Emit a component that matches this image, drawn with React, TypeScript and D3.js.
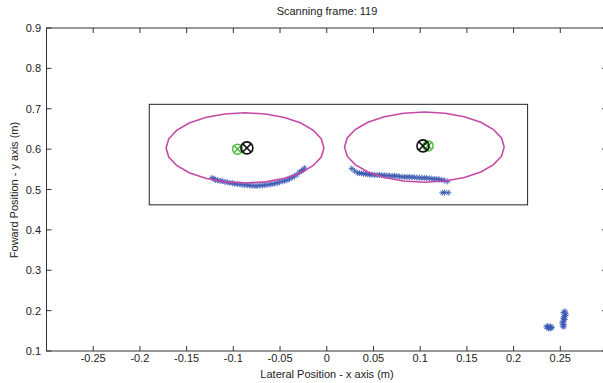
import React from 'react';
import * as d3 from 'd3';

// scan points, left object
const leftScanX = [-0.1228, -0.1205, -0.1190, -0.1168, -0.1141, -0.1118, -0.1090, -0.1065, -0.1037, -0.1010, -0.0985, -0.0958, -0.0930, -0.0905, -0.0878, -0.0850, -0.0825, -0.0798, -0.0770, -0.0745, -0.0718, -0.0690, -0.0665, -0.0638, -0.0610, -0.0585, -0.0558, -0.0530, -0.0505, -0.0478, -0.0450, -0.0425, -0.0398, -0.0370, -0.0345, -0.0318, -0.0292, -0.0270, -0.0252, -0.0238];
const leftScanY = [0.5290, 0.5262, 0.5240, 0.5228, 0.5215, 0.5205, 0.5190, 0.5178, 0.5165, 0.5158, 0.5140, 0.5135, 0.5128, 0.5120, 0.5112, 0.5105, 0.5100, 0.5095, 0.5090, 0.5092, 0.5100, 0.5098, 0.5112, 0.5118, 0.5126, 0.5135, 0.5150, 0.5160, 0.5185, 0.5198, 0.5215, 0.5232, 0.5262, 0.5295, 0.5335, 0.5370, 0.5430, 0.5460, 0.5490, 0.5530];

// scan points, right object
const rightScanX = [0.0267, 0.0299, 0.0330, 0.0352, 0.0373, 0.0395, 0.0416, 0.0440, 0.0458, 0.0485, 0.0512, 0.0540, 0.0565, 0.0590, 0.0618, 0.0645, 0.0672, 0.0700, 0.0725, 0.0750, 0.0778, 0.0805, 0.0832, 0.0858, 0.0885, 0.0910, 0.0938, 0.0965, 0.0991, 0.1018, 0.1045, 0.1070, 0.1098, 0.1125, 0.1151, 0.1178, 0.1205, 0.1232, 0.1258, 0.1290, 0.1237, 0.1262, 0.1301];
const rightScanY = [0.5522, 0.5460, 0.5410, 0.5405, 0.5400, 0.5392, 0.5386, 0.5378, 0.5370, 0.5365, 0.5360, 0.5358, 0.5360, 0.5352, 0.5350, 0.5345, 0.5340, 0.5338, 0.5340, 0.5330, 0.5320, 0.5318, 0.5310, 0.5312, 0.5310, 0.5305, 0.5300, 0.5296, 0.5290, 0.5288, 0.5290, 0.5282, 0.5275, 0.5270, 0.5260, 0.5258, 0.5250, 0.5240, 0.5225, 0.5200, 0.4920, 0.4925, 0.4920];

// far points, bottom right
const farScanX = [0.2350, 0.2365, 0.2380, 0.2395, 0.2410, 0.2372, 0.2400, 0.2525, 0.2540, 0.2520, 0.2535, 0.2548, 0.2530, 0.2542, 0.2555, 0.2560, 0.2532, 0.2550, 0.2538];
const farScanY = [0.1600, 0.1620, 0.1575, 0.1610, 0.1585, 0.1555, 0.1560, 0.1620, 0.1660, 0.1700, 0.1740, 0.1780, 0.1810, 0.1850, 0.1880, 0.1920, 0.1950, 0.1985, 0.1600];

// tracked objects: ellipse centre and radii, estimate (black) and measurement (green)
const ellipseCX = [-0.0875, 0.1045];
const ellipseCY = [0.603, 0.605];
const ellipseRX = [0.0845, 0.0855];
const ellipseRY = [0.087, 0.087];
const estimateX = [-0.0855, 0.1030];
const estimateY = [0.603, 0.608];
const measureX = [-0.0955, 0.1085];
const measureY = [0.600, 0.608];

// region of interest
const roiX = [-0.19, 0.215];
const roiY = [0.462, 0.711];

const xTicks = [-0.25, -0.2, -0.15, -0.1, -0.05, 0, 0.05, 0.1, 0.15, 0.2, 0.25];
const yTicks = [0.1, 0.2, 0.3, 0.4, 0.5, 0.6, 0.7, 0.8, 0.9];

const W = 603;
const H = 383;
const left = 46.5, right = 607, top = 28, bottom = 351;
const font = 'Liberation Sans, Arial, sans-serif';
const blue = '#3a58b4';
const magenta = '#c449a6';
const green = '#4cbb3a';

const x = d3.scaleLinear().domain([-0.3, 0.3]).range([left, right]);
const y = d3.scaleLinear().domain([0.1, 0.9]).range([bottom, top]);

const star = (cx: number, cy: number, r: number) =>
  `M${cx - r},${cy}L${cx + r},${cy}M${cx},${cy - r}L${cx},${cy + r}` +
  `M${cx - r * 0.7},${cy - r * 0.7}L${cx + r * 0.7},${cy + r * 0.7}M${cx - r * 0.7},${cy + r * 0.7}L${cx + r * 0.7},${cy - r * 0.7}`;

const crossCircle = (cx: number, cy: number, r: number) => {
  const d = r * 0.72;
  return `M${cx - d},${cy - d}L${cx + d},${cy + d}M${cx - d},${cy + d}L${cx + d},${cy - d}`;
};

const ellipseLine = d3.line<[number, number]>().x(d => d[0]).y(d => d[1]);

export default function App() {
  const scans = [
    ...leftScanX.map((v, i) => [v, leftScanY[i]]),
    ...rightScanX.map((v, i) => [v, rightScanY[i]]),
    ...farScanX.map((v, i) => [v, farScanY[i]]),
  ];

  const ellipses = ellipseCX.map((cx, i) => {
    const pts: [number, number][] = d3.range(0, 25).map(k => {
      const a = (k / 24) * 2 * Math.PI;
      return [x(cx + ellipseRX[i] * Math.cos(a)), y(ellipseCY[i] + ellipseRY[i] * Math.sin(a))];
    });
    return ellipseLine(pts) || '';
  });

  return (
    <svg width={W} height={H} style={{ position: 'absolute', left: 0, top: 0, background: '#fff' }}>
      <rect x={0} y={0} width={W} height={H} fill="#fff" />
      <text x={327} y={15} textAnchor="middle" fontFamily={font} fontSize={11} fill="#222">
        Scanning  frame: 119
      </text>

      {/* frame */}
      <rect x={left} y={top} width={right - left} height={bottom - top} fill="none" stroke="#333" strokeWidth={1} />

      {xTicks.map(t => (
        <g key={'x' + t}>
          <line x1={x(t)} x2={x(t)} y1={bottom} y2={bottom - 5} stroke="#333" />
          <line x1={x(t)} x2={x(t)} y1={top} y2={top + 5} stroke="#333" />
          <text x={x(t)} y={362} textAnchor="middle" fontFamily={font} fontSize={11} fill="#222">
            {t === 0 ? '0' : String(t)}
          </text>
        </g>
      ))}
      {yTicks.map(t => (
        <g key={'y' + t}>
          <line x1={left} x2={left + 5} y1={y(t)} y2={y(t)} stroke="#333" />
          <line x1={right} x2={right - 5} y1={y(t)} y2={y(t)} stroke="#333" />
          <text x={41} y={y(t) + 4} textAnchor="end" fontFamily={font} fontSize={11} fill="#222">
            {t.toFixed(1)}
          </text>
        </g>
      ))}

      <text x={327} y={378} textAnchor="middle" fontFamily={font} fontSize={11} fill="#222">
        Lateral Position - x axis (m)
      </text>
      <text transform={`translate(18,190) rotate(-90)`} textAnchor="middle" fontFamily={font} fontSize={11} fill="#222">
        Foward Position - y axis (m)
      </text>

      {/* region of interest */}
      <rect x={x(roiX[0])} y={y(roiY[1])} width={x(roiX[1]) - x(roiX[0])} height={y(roiY[0]) - y(roiY[1])}
        fill="none" stroke="#222" strokeWidth={1} />

      {/* scan points */}
      {scans.map((p, i) => (
        <path key={'s' + i} d={star(x(p[0]), y(p[1]), 3)} stroke={blue} strokeWidth={1} fill="none" opacity={0.85} />
      ))}

      {ellipses.map((d, i) => (
        <path key={'e' + i} d={d} fill="none" stroke={magenta} strokeWidth={1.6} />
      ))}

      {measureX.map((v, i) => (
        <g key={'m' + i} stroke={green} strokeWidth={1.5} fill="none">
          <circle cx={x(v)} cy={y(measureY[i])} r={5} />
          <path d={crossCircle(x(v), y(measureY[i]), 5)} />
        </g>
      ))}
      {estimateX.map((v, i) => (
        <g key={'k' + i} stroke="#111" strokeWidth={1.6} fill="none">
          <circle cx={x(v)} cy={y(estimateY[i])} r={6} />
          <path d={crossCircle(x(v), y(estimateY[i]), 6)} />
        </g>
      ))}
    </svg>
  );
}
